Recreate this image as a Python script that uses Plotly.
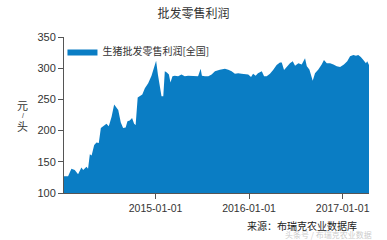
import plotly.graph_objects as go

dates = [
    "2014-01-08", "2014-01-24", "2014-02-06", "2014-02-19", "2014-03-04", "2014-03-17",
    "2014-03-24", "2014-04-06", "2014-04-12", "2014-04-19", "2014-04-26", "2014-05-06",
    "2014-05-15", "2014-05-24", "2014-06-01", "2014-06-10", "2014-06-23", "2014-07-02",
    "2014-07-13", "2014-07-23", "2014-08-01", "2014-08-08", "2014-08-18", "2014-08-27",
    "2014-09-06", "2014-09-13", "2014-09-22", "2014-10-01", "2014-10-09", "2014-10-15",
    "2014-10-23", "2014-11-01", "2014-11-10", "2014-11-20", "2014-12-03", "2014-12-16",
    "2014-12-26", "2015-01-03", "2015-01-10", "2015-01-18", "2015-01-24", "2015-01-31",
    "2015-02-06", "2015-02-14", "2015-02-22", "2015-02-28", "2015-03-08", "2015-03-17",
    "2015-03-30", "2015-04-12", "2015-04-25", "2015-05-08", "2015-05-21", "2015-06-03",
    "2015-06-16", "2015-06-26", "2015-07-01", "2015-07-13", "2015-07-26", "2015-08-08",
    "2015-08-21", "2015-09-09", "2015-09-29", "2015-10-12", "2015-10-25", "2015-11-07",
    "2015-11-20", "2015-12-03", "2015-12-16", "2015-12-29", "2016-01-09", "2016-01-17",
    "2016-01-27", "2016-02-05", "2016-02-20", "2016-02-29", "2016-03-10", "2016-03-23",
    "2016-04-05", "2016-04-18", "2016-05-01", "2016-05-08", "2016-05-17", "2016-05-28",
    "2016-06-09", "2016-06-20", "2016-06-29", "2016-07-12", "2016-07-25", "2016-08-07",
    "2016-08-14", "2016-08-24", "2016-09-06", "2016-09-15", "2016-09-28", "2016-10-11",
    "2016-10-20", "2016-10-31", "2016-11-13", "2016-11-26", "2016-12-09", "2016-12-22",
    "2017-01-06", "2017-01-19", "2017-01-30", "2017-02-12", "2017-02-22", "2017-03-03",
    "2017-03-13", "2017-03-23", "2017-04-02", "2017-04-07", "2017-04-14",
]

profit = [
    127, 127, 139, 137, 130, 141,
    137, 142, 139, 162, 160, 177,
    181, 180, 204, 207, 211, 207,
    222, 242, 237, 233, 213, 204,
    205, 215, 216, 220, 211, 209,
    253, 255, 258, 268, 276, 288,
    302, 312, 290, 265, 255, 255,
    295, 293, 290, 277, 287, 288,
    287, 290, 287, 288, 288, 287,
    287, 299, 288, 287, 287, 290,
    295, 297.5, 299, 297.5, 295, 291,
    292, 291, 291, 290, 286, 291,
    288, 292, 295, 287, 287, 291,
    297.5, 305, 309, 309, 297, 303,
    308, 311, 304, 308, 306, 316,
    303, 298, 280, 292, 298, 306,
    313, 308, 308, 306, 303, 302,
    306, 311, 319, 321, 320, 321,
    318, 313, 308, 311, 305,
]

x_ticks = ["2015-01-01", "2016-01-01", "2017-01-01"]
y_ticks = [100, 150, 200, 250, 300, 350]

series_name = "生猪批发零售利润[全国]"
title_text = "批发零售利润"
source_text = "来源：布瑞克农业数据库"
watermark_text = "头条号 / 布瑞克农业数据"

FONT = "Liberation Sans, Noto Sans CJK SC, sans-serif"
CJK = "Noto Sans CJK SC, sans-serif"
BLUE = "#0a7dc4"
AXIS = "#555555"

fig = go.Figure()
fig.add_trace(go.Scatter(
    x=dates, y=profit, name=series_name, mode="lines",
    line=dict(width=0, color=BLUE), fill="tozeroy", fillcolor=BLUE,
    showlegend=True,
))

fig.update_layout(
    width=387, height=240,
    margin=dict(l=64, r=18, t=37, b=47),
    paper_bgcolor="white", plot_bgcolor="white",
    font=dict(family=FONT, size=11, color="#333333"),
    title=dict(text=title_text, x=0.5, xanchor="center", y=1 - 13.5 / 240, yanchor="middle",
               font=dict(family=CJK, size=12, color="#333333")),
    showlegend=True,
    legend=dict(x=-0.005, y=1.0, xanchor="left", yanchor="top", bgcolor="rgba(0,0,0,0)",
                font=dict(family=CJK, size=10, color="#333333"),
                itemwidth=30, tracegroupgap=0),
    xaxis=dict(
        type="date", range=[dates[0], dates[-1]],
        tickvals=x_ticks, ticktext=x_ticks,
        ticks="outside", ticklen=5, tickcolor=AXIS, tickwidth=1,
        showline=True, linecolor=AXIS, linewidth=1,
        showgrid=False, zeroline=False,
        tickfont=dict(family=FONT, size=10.5, color="#333333"),
    ),
    yaxis=dict(
        range=[100, 350], tickvals=y_ticks,
        ticks="outside", ticklen=5, tickcolor=AXIS, tickwidth=1,
        showline=True, linecolor=AXIS, linewidth=1,
        showgrid=False, zeroline=False,
        tickfont=dict(family=FONT, size=11, color="#333333"),
    ),
    annotations=[
        dict(text="元", xref="paper", yref="paper", x=-0.135, y=(193 - 105) / 156,
             showarrow=False, xanchor="center", yanchor="middle",
             font=dict(family=CJK, size=11, color="#333333")),
        dict(text="/", xref="paper", yref="paper", x=-0.135, y=(193 - 115.5) / 156,
             showarrow=False, xanchor="center", yanchor="middle",
             font=dict(family=FONT, size=7, color="#333333")),
        dict(text="头", xref="paper", yref="paper", x=-0.135, y=(193 - 126) / 156,
             showarrow=False, xanchor="center", yanchor="middle",
             font=dict(family=CJK, size=11, color="#333333")),
        dict(text=source_text, xref="paper", yref="paper", x=(245 - 64) / 305, y=-(225.5 - 193) / 156,
             showarrow=False, xanchor="left", yanchor="middle",
             font=dict(family=CJK, size=10, color="#222222")),
        dict(text=watermark_text, xref="paper", yref="paper", x=(283 - 64) / 305, y=-(234.5 - 193) / 156,
             showarrow=False, xanchor="left", yanchor="middle",
             font=dict(family=CJK, size=8, color="rgba(190,190,190,0.8)")),
    ],
)

fig.write_html("out.html")
